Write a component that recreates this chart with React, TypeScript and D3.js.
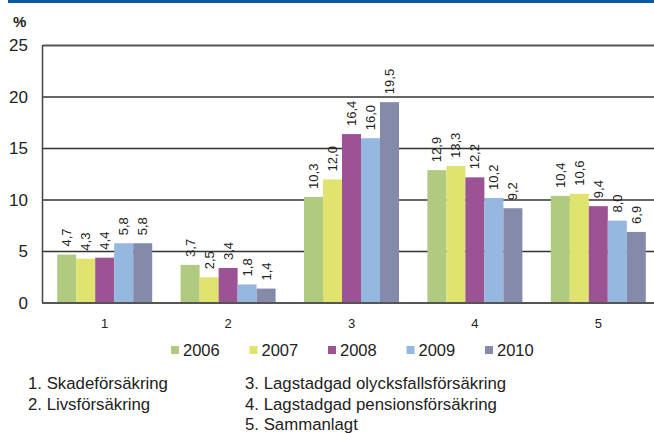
import React from "react";
import * as d3 from "d3";

const categories = ["1", "2", "3", "4", "5"];
const years = ["2006", "2007", "2008", "2009", "2010"];
const v2006 = [4.7, 3.7, 10.3, 12.9, 10.4];
const v2007 = [4.3, 2.5, 12.0, 13.3, 10.6];
const v2008 = [4.4, 3.4, 16.4, 12.2, 9.4];
const v2009 = [5.8, 1.8, 16.0, 10.2, 8.0];
const v2010 = [5.8, 1.4, 19.5, 9.2, 6.9];
const series = [v2006, v2007, v2008, v2009, v2010];
const colors = ["#B0CB7F", "#E0E46F", "#9B5394", "#95B7E0", "#848AAA"];
const yTicks = [0, 5, 10, 15, 20, 25];
const notesLeft = ["1. Skadeförsäkring", "2. Livsförsäkring"];
const notesRight = ["3. Lagstadgad olycksfallsförsäkring", "4. Lagstadgad pensionsförsäkring", "5. Sammanlagt"];

const W = 654;
const H = 433;
const FONT = "'Liberation Sans', Arial, sans-serif";

export default function App() {
  const x0 = d3.scaleBand<string>().domain(categories).range([43, 660]);
  const y = d3.scaleLinear().domain([0, 25]).range([303, 45.5]);
  const groupPad = 14.2;
  const x1 = d3
    .scaleBand<string>()
    .domain(years)
    .range([groupPad, x0.bandwidth() - groupPad]);
  const fmt = (v: number) => v.toFixed(1).replace(".", ",");

  return (
    <svg width={W} height={H} style={{ position: "absolute", left: 0, top: 0, fontFamily: FONT }}>
      <rect x={0} y={0} width={W} height={H} fill="#fff" />
      <rect x={8} y={0} width={W - 8} height={3} fill="#0B5AA0" />
      <text x={13} y={27} fontSize={15} fontWeight="bold" fill="#222">%</text>

      {yTicks.map((t) => (
        <g key={t}>
          {t > 0 && (
            <line
              x1={43}
              x2={W}
              y1={y(t)}
              y2={y(t)}
              stroke={t === 25 ? "#555" : "#333"}
              strokeWidth={t === 25 ? 2 : 1.3}
            />
          )}
          <text x={28} y={y(t)} dy="0.35em" textAnchor="end" fontSize={17} fill="#222">
            {t}
          </text>
        </g>
      ))}

      {categories.map((c, ci) => (
        <g key={c} transform={`translate(${x0(c)},0)`}>
          {years.map((yr, si) => {
            const v = series[si][ci];
            const bx = x1(yr)!;
            const bw = x1.bandwidth();
            const cx = bx + bw / 2;
            return (
              <g key={yr}>
                <rect x={bx} y={y(v)} width={bw} height={y(0) - y(v)} fill={colors[si]} />
                <text
                  transform={`translate(${cx},${y(v) - 8}) rotate(-90)`}
                  dy="0.35em"
                  textAnchor="start"
                  fontSize={13}
                  fill="#222"
                >
                  {fmt(v)}
                </text>
              </g>
            );
          })}
          <text x={x0.bandwidth() / 2} y={327.5} textAnchor="middle" fontSize={13} fill="#222">
            {c}
          </text>
        </g>
      ))}

      <line x1={42.5} x2={42.5} y1={45} y2={303} stroke="#444" strokeWidth={1.5} />
      <line x1={42} x2={W} y1={303} y2={303} stroke="#555" strokeWidth={2} />

      {years.map((yr, i) => (
        <g key={yr} transform={`translate(${171 + i * 78.5},0)`}>
          <rect x={0} y={346} width={8} height={8} fill={colors[i]} />
          <text x={12} y={355.5} fontSize={16.5} fill="#222">{yr}</text>
        </g>
      ))}

      {notesLeft.map((n, i) => (
        <text key={n} x={28} y={389 + i * 20.5} fontSize={16.8} fill="#222">{n}</text>
      ))}
      {notesRight.map((n, i) => (
        <text key={n} x={245} y={389 + i * 20.5} fontSize={16.8} fill="#222">{n}</text>
      ))}
    </svg>
  );
}
